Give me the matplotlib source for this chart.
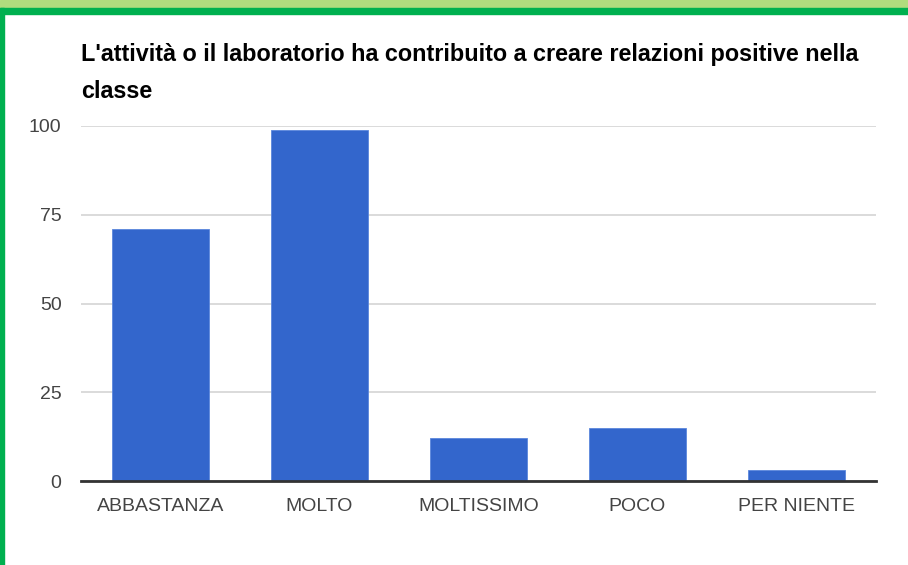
import matplotlib.pyplot as plt
from matplotlib.patches import Rectangle

categories = ["ABBASTANZA", "MOLTO", "MOLTISSIMO", "POCO", "PER NIENTE"]
counts = [71, 99, 12, 15, 3]
y_ticks = [0, 25, 50, 75, 100]
title = "L'attività o il laboratorio ha contribuito a creare relazioni positive nella\nclasse"

plt.rcParams['font.family'] = ['Liberation Sans', 'DejaVu Sans']

W, H = 908, 565
fig = plt.figure(figsize=(W / 100, H / 100), dpi=100)

# green frame of the screenshot
fig.patches.append(Rectangle((0, 1 - 8 / H), 1, 8 / H, transform=fig.transFigure,
                             color='#b0dc7e', zorder=0))
fig.patches.append(Rectangle((0, 1 - 14 / H), 1, 6 / H, transform=fig.transFigure,
                             color='#00b04f', zorder=0))
fig.patches.append(Rectangle((0, 0), 4 / W, 1 - 8 / H, transform=fig.transFigure,
                             color='#00b04f', zorder=0))

ax = fig.add_axes([81 / W, 1 - 481 / H, (876 - 81) / W, (481 - 126) / H])
x = range(len(categories))
ax.bar(x, counts, width=0.61, color='#3366cc', edgecolor='#5a86dc', linewidth=0.6, zorder=3)

ax.set_xlim(-0.5, len(categories) - 0.5)
ax.set_ylim(0, 100)
ax.set_yticks(y_ticks)
ax.set_xticks(list(x))
ax.set_xticklabels(categories)
ax.yaxis.grid(True, color='#d4d4d4', linewidth=1.2, zorder=0)
ax.set_axisbelow(True)
for side in ['top', 'right', 'left']:
    ax.spines[side].set_visible(False)
ax.spines['bottom'].set_color('#333333')
ax.spines['bottom'].set_linewidth(2)
ax.spines['bottom'].set_zorder(4)
ax.tick_params(axis='both', length=0, labelsize=14, labelcolor='#444444')
ax.tick_params(axis='y', pad=14)
ax.tick_params(axis='x', pad=12)

fig.text(81 / W, 1 - 43 / H, title, fontsize=16.8, fontweight='bold', color='#000000',
         ha='left', va='top', linespacing=1.75)

fig.savefig('out.png', dpi=100)
